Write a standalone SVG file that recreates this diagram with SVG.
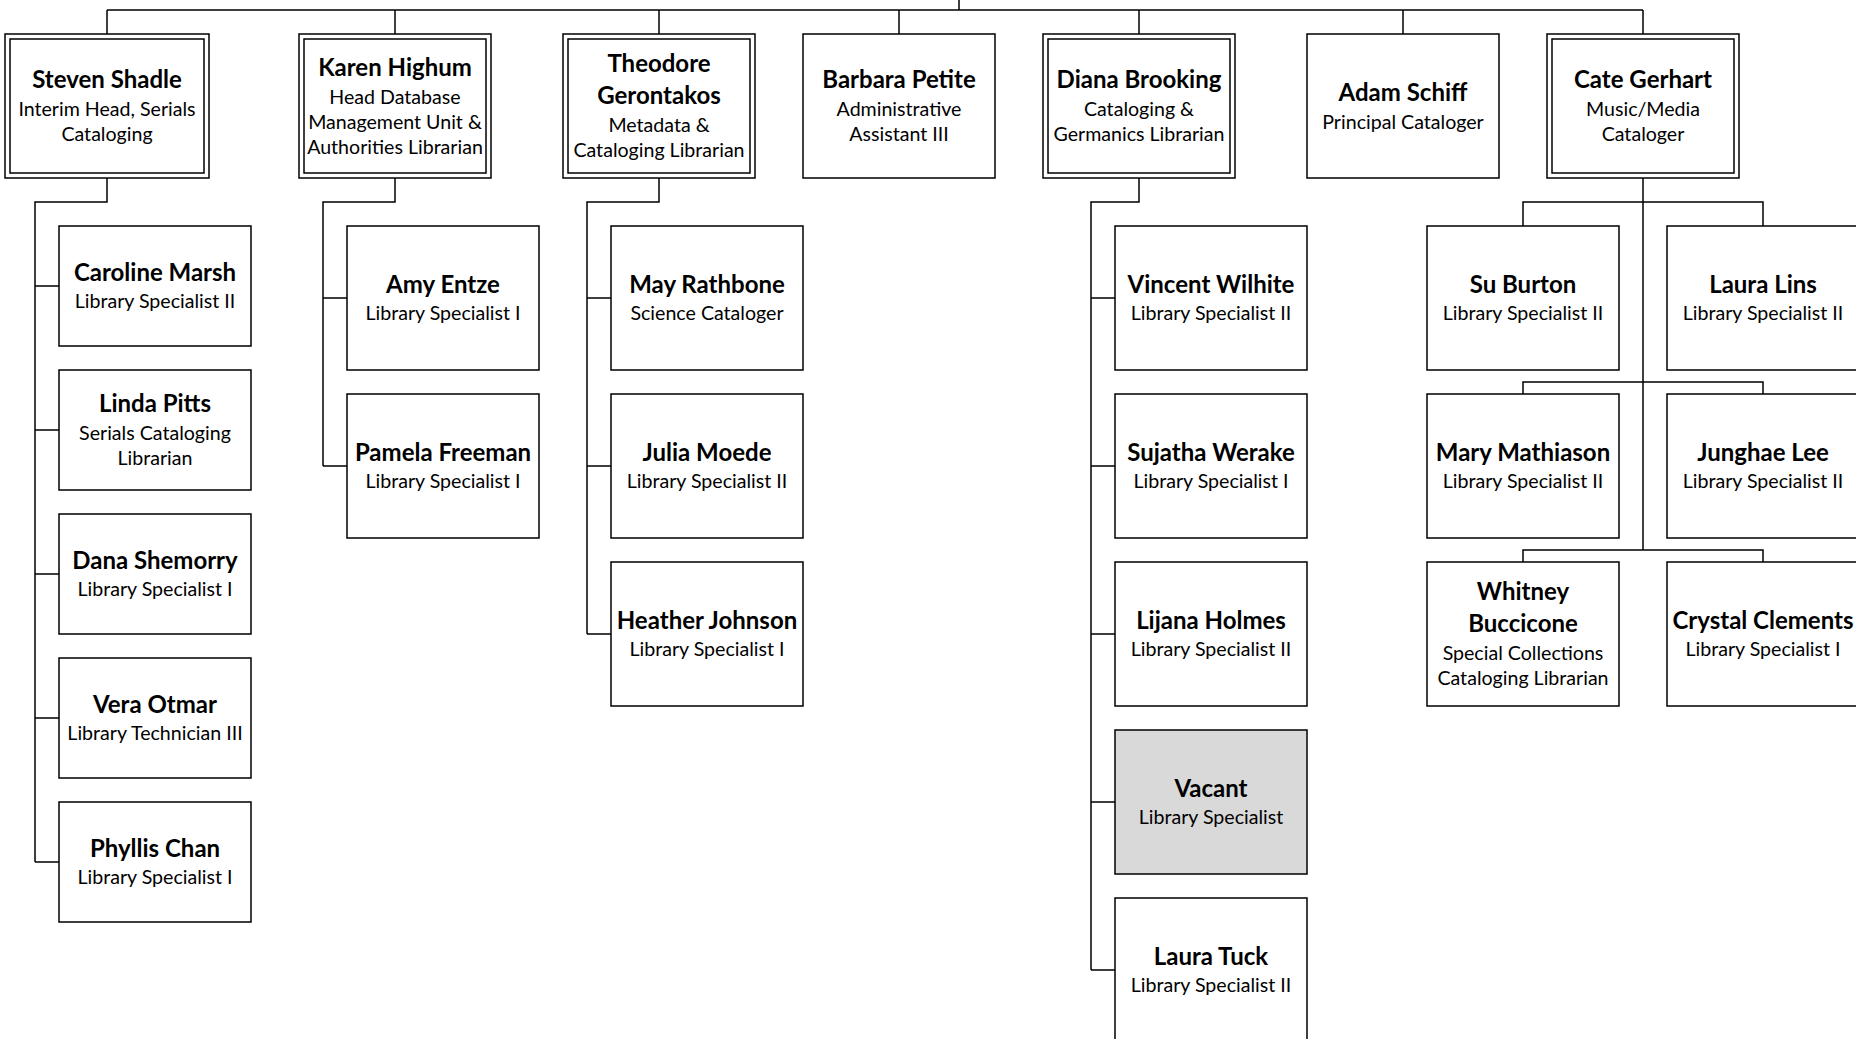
<svg xmlns="http://www.w3.org/2000/svg" width="1856" height="1039" viewBox="0 0 1856 1039">
<style>
.bg{fill:#ffffff}
.box{fill:#ffffff;stroke:#000000;stroke-width:1.5}
.vac{fill:#d9d9d9;stroke:#000000;stroke-width:1.5}
.ln{fill:none;stroke:#000000;stroke-width:1.5}
text{font-family:Lato,"Liberation Sans",sans-serif;text-anchor:middle;fill:#000000}
.nm{font-size:24px;font-weight:bold}
.tt{font-size:19.6px}
</style>
<rect class="bg" x="0" y="0" width="1856" height="1039"/>
<g id="connectors">
<path class="ln" d="M959,0 V10 M107,10 H1643 M107,10 V34 M395,10 V34 M659,10 V34 M899,10 V34 M1139,10 V34 M1403,10 V34 M1643,10 V34"/>
<path class="ln" d="M107,178 V202 H35 V862 M35,286 H59 M35,430 H59 M35,574 H59 M35,718 H59 M35,862 H59"/>
<path class="ln" d="M395,178 V202 H323 V466 M323,298 H347 M323,466 H347"/>
<path class="ln" d="M659,178 V202 H587 V634 M587,298 H611 M587,466 H611 M587,634 H611"/>
<path class="ln" d="M1139,178 V202 H1091 V970 M1091,298 H1115 M1091,466 H1115 M1091,634 H1115 M1091,802 H1115 M1091,970 H1115"/>
<path class="ln" d="M1643,178 V550 M1523,226 V202 H1763 V226 M1523,394 V382 H1763 V394 M1523,562 V550 H1763 V562"/>
</g>
<g id="steven-shadle"><rect class="box" x="5" y="34" width="204" height="144"/><rect class="box" x="10" y="39" width="194" height="134"/>
<text class="nm" x="107" y="88">Steven Shadle</text><text class="tt" x="107" y="116">Interim Head, Serials</text><text class="tt" x="107" y="141">Cataloging</text></g>
<g id="karen-highum"><rect class="box" x="299" y="34" width="192" height="144"/><rect class="box" x="304" y="39" width="182" height="134"/>
<text class="nm" x="395" y="75.5">Karen Highum</text><text class="tt" x="395" y="103.5">Head Database</text><text class="tt" x="395" y="128.5">Management Unit &amp;</text><text class="tt" x="395" y="153.5">Authorities Librarian</text></g>
<g id="theodore-gerontakos"><rect class="box" x="563" y="34" width="192" height="144"/><rect class="box" x="568" y="39" width="182" height="134"/>
<text class="nm" x="659" y="72">Theodore</text><text class="nm" x="659" y="104">Gerontakos</text><text class="tt" x="659" y="132">Metadata &amp;</text><text class="tt" x="659" y="157">Cataloging Librarian</text></g>
<g id="barbara-petite"><rect class="box" x="803" y="34" width="192" height="144"/>
<text class="nm" x="899" y="88">Barbara Petite</text><text class="tt" x="899" y="116">Administrative</text><text class="tt" x="899" y="141">Assistant III</text></g>
<g id="diana-brooking"><rect class="box" x="1043" y="34" width="192" height="144"/><rect class="box" x="1048" y="39" width="182" height="134"/>
<text class="nm" x="1139" y="88">Diana Brooking</text><text class="tt" x="1139" y="116">Cataloging &amp;</text><text class="tt" x="1139" y="141">Germanics Librarian</text></g>
<g id="adam-schiff"><rect class="box" x="1307" y="34" width="192" height="144"/>
<text class="nm" x="1403" y="100.5">Adam Schiff</text><text class="tt" x="1403" y="128.5">Principal Cataloger</text></g>
<g id="cate-gerhart"><rect class="box" x="1547" y="34" width="192" height="144"/><rect class="box" x="1552" y="39" width="182" height="134"/>
<text class="nm" x="1643" y="88">Cate Gerhart</text><text class="tt" x="1643" y="116">Music/Media</text><text class="tt" x="1643" y="141">Cataloger</text></g>

<g id="caroline-marsh"><rect class="box" x="59" y="226" width="192" height="120"/><text class="nm" x="155" y="280.5">Caroline Marsh</text><text class="tt" x="155" y="308">Library Specialist II</text></g>
<g id="linda-pitts"><rect class="box" x="59" y="370" width="192" height="120"/><text class="nm" x="155" y="412">Linda Pitts</text><text class="tt" x="155" y="440">Serials Cataloging</text><text class="tt" x="155" y="465">Librarian</text></g>
<g id="dana-shemorry"><rect class="box" x="59" y="514" width="192" height="120"/><text class="nm" x="155" y="568.5">Dana Shemorry</text><text class="tt" x="155" y="596">Library Specialist I</text></g>
<g id="vera-otmar"><rect class="box" x="59" y="658" width="192" height="120"/><text class="nm" x="155" y="712.5">Vera Otmar</text><text class="tt" x="155" y="740">Library Technician III</text></g>
<g id="phyllis-chan"><rect class="box" x="59" y="802" width="192" height="120"/><text class="nm" x="155" y="856.5">Phyllis Chan</text><text class="tt" x="155" y="884">Library Specialist I</text></g>

<g id="amy-entze"><rect class="box" x="347" y="226" width="192" height="144"/><text class="nm" x="443" y="292.5">Amy Entze</text><text class="tt" x="443" y="320">Library Specialist I</text></g>
<g id="pamela-freeman"><rect class="box" x="347" y="394" width="192" height="144"/><text class="nm" x="443" y="460.5">Pamela Freeman</text><text class="tt" x="443" y="488">Library Specialist I</text></g>

<g id="may-rathbone"><rect class="box" x="611" y="226" width="192" height="144"/><text class="nm" x="707" y="292.5">May Rathbone</text><text class="tt" x="707" y="320">Science Cataloger</text></g>
<g id="julia-moede"><rect class="box" x="611" y="394" width="192" height="144"/><text class="nm" x="707" y="460.5">Julia Moede</text><text class="tt" x="707" y="488">Library Specialist II</text></g>
<g id="heather-johnson"><rect class="box" x="611" y="562" width="192" height="144"/><text class="nm" x="707" y="628.5">Heather Johnson</text><text class="tt" x="707" y="656">Library Specialist I</text></g>

<g id="vincent-wilhite"><rect class="box" x="1115" y="226" width="192" height="144"/><text class="nm" x="1211" y="292.5">Vincent Wilhite</text><text class="tt" x="1211" y="320">Library Specialist II</text></g>
<g id="sujatha-werake"><rect class="box" x="1115" y="394" width="192" height="144"/><text class="nm" x="1211" y="460.5">Sujatha Werake</text><text class="tt" x="1211" y="488">Library Specialist I</text></g>
<g id="lijana-holmes"><rect class="box" x="1115" y="562" width="192" height="144"/><text class="nm" x="1211" y="628.5">Lijana Holmes</text><text class="tt" x="1211" y="656">Library Specialist II</text></g>
<g id="vacant"><rect class="vac" x="1115" y="730" width="192" height="144"/><text class="nm" x="1211" y="796.5">Vacant</text><text class="tt" x="1211" y="824">Library Specialist</text></g>
<g id="laura-tuck"><rect class="box" x="1115" y="898" width="192" height="144"/><text class="nm" x="1211" y="964.5">Laura Tuck</text><text class="tt" x="1211" y="992">Library Specialist II</text></g>

<g id="su-burton"><rect class="box" x="1427" y="226" width="192" height="144"/><text class="nm" x="1523" y="292.5">Su Burton</text><text class="tt" x="1523" y="320">Library Specialist II</text></g>
<g id="laura-lins"><rect class="box" x="1667" y="226" width="192" height="144"/><text class="nm" x="1763" y="292.5">Laura Lins</text><text class="tt" x="1763" y="320">Library Specialist II</text></g>
<g id="mary-mathiason"><rect class="box" x="1427" y="394" width="192" height="144"/><text class="nm" x="1523" y="460.5">Mary Mathiason</text><text class="tt" x="1523" y="488">Library Specialist II</text></g>
<g id="junghae-lee"><rect class="box" x="1667" y="394" width="192" height="144"/><text class="nm" x="1763" y="460.5">Junghae Lee</text><text class="tt" x="1763" y="488">Library Specialist II</text></g>
<g id="whitney-buccicone"><rect class="box" x="1427" y="562" width="192" height="144"/><text class="nm" x="1523" y="600">Whitney</text><text class="nm" x="1523" y="632">Buccicone</text><text class="tt" x="1523" y="660">Special Collections</text><text class="tt" x="1523" y="685">Cataloging Librarian</text></g>
<g id="crystal-clements"><rect class="box" x="1667" y="562" width="192" height="144"/><text class="nm" x="1763" y="628.5">Crystal Clements</text><text class="tt" x="1763" y="656">Library Specialist I</text></g>
</svg>
